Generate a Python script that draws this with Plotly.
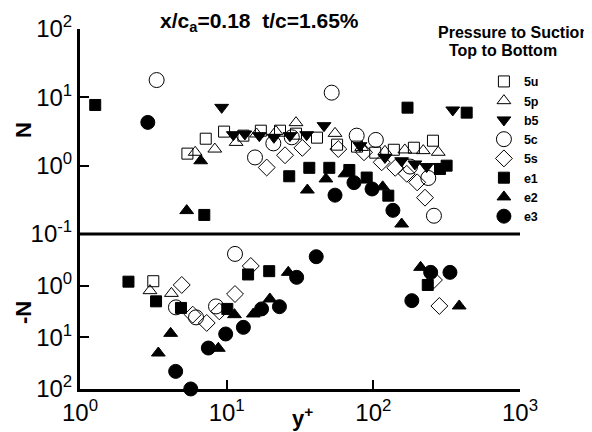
import plotly.graph_objects as go

# ---------------- data (upper panel: N ; lower panel: -N) ----------------
x_5u_top = [5.4, 7.2, 9.6, 13.0, 17.1, 23.1, 29.7, 41.3, 56.6, 77.4, 103, 138, 189, 255]
N_5u_top = [1.50, 2.48, 3.15, 2.75, 3.25, 3.25, 2.94, 2.57, 2.03, 1.90, 1.55, 1.71, 1.83, 2.32]
x_5u_bot = [3.16]
N_5u_bot = [0.82]

x_5p_top = [6.1, 8.3, 11.6, 16.0, 21.7, 29.7, 54.8, 83.3, 120, 164, 219, 277]
N_5p_top = [1.57, 1.75, 2.19, 2.91, 3.15, 4.26, 2.97, 1.85, 1.62, 1.70, 1.66, 1.57]
x_5p_bot = [3.0, 4.2]
N_5p_bot = [1.25, 1.41]

x_b5_top = [9.25, 11.1, 13.3, 16.7, 21.0, 27.0, 35.1, 46.1, 81.1, 120, 156, 192, 231, 285, 348]
N_b5_top = [7.13, 2.84, 2.91, 2.75, 2.60, 2.75, 2.84, 3.85, 1.96, 1.32, 1.18, 1.06, 0.97, 0.97, 6.53]
x_b5_bot = []
N_b5_bot = []

x_5c_top = [3.33, 15.6, 20.8, 27.8, 52.0, 77.0, 104, 178, 237, 259]
N_5c_top = [17.9, 1.32, 2.12, 2.60, 11.7, 2.75, 2.38, 0.97, 0.66, 0.185]
x_5c_bot = [4.51, 6.18, 8.46, 11.4]
N_5c_bot = [2.63, 4.11, 2.52, 0.243]

x_5s_top = [18.75, 25.0, 32.8, 57.7, 86.4, 114, 141, 169, 199, 225]
N_5s_top = [0.94, 1.42, 1.82, 1.75, 1.57, 1.12, 0.93, 0.76, 0.57, 0.34]
x_5s_bot = [4.94, 5.87, 7.31, 8.91, 11.4, 14.6, 259, 282]
N_5s_bot = [0.97, 3.64, 5.27, 3.14, 1.45, 0.416, 0.776, 2.47]

x_e1_top = [1.27, 7.04, 26.7, 36.6, 50.1, 68.6, 90.1, 126.5, 171, 285, 316, 433]
N_e1_top = [7.73, 0.19, 0.70, 0.93, 0.93, 0.865, 0.67, 0.364, 7.06, 0.895, 1.0, 5.97]
x_e1_bot = [2.14, 3.30, 4.88, 10.1, 14.0, 19.5, 235]
N_e1_bot = [0.837, 2.01, 2.70, 2.82, 0.607, 0.524, 0.97]

x_e2_top = [5.34, 6.65, 35.5, 47.5, 64.1, 115.8, 156]
N_e2_top = [0.22, 1.18, 0.44, 0.64, 0.76, 0.49, 0.14]
x_e2_bot = [3.42, 4.15, 8.77, 11.3, 15.2, 19.7, 26.3, 210, 385]
N_e2_bot = [20.1, 8.38, 16.3, 3.64, 3.53, 1.81, 0.553, 0.442, 2.47]

x_e3_top = [2.90, 54.8, 73.8, 98, 136]
N_e3_top = [4.30, 0.37, 0.564, 0.456, 0.222]
x_e3_bot = [4.49, 5.69, 7.50, 9.85, 13.0, 17.3, 22.9, 30.0, 40.8, 183, 246, 333]
N_e3_bot = [45.6, 99.8, 16.1, 8.61, 6.41, 2.82, 2.55, 0.69, 0.275, 1.95, 0.553, 0.553]

series_names = ["5u", "5p", "b5", "5c", "5s", "e1", "e2", "e3"]
series_symbols = ["square-open", "triangle-up-open", "triangle-down", "circle-open",
                  "diamond-open", "square", "triangle-up", "circle"]
series_sizes = [11, 12, 12, 15, 13, 11, 12, 14]

top_x = [x_5u_top, x_5p_top, x_b5_top, x_5c_top, x_5s_top, x_e1_top, x_e2_top, x_e3_top]
top_N = [N_5u_top, N_5p_top, N_b5_top, N_5c_top, N_5s_top, N_e1_top, N_e2_top, N_e3_top]
bot_x = [x_5u_bot, x_5p_bot, x_b5_bot, x_5c_bot, x_5s_bot, x_e1_bot, x_e2_bot, x_e3_bot]
bot_N = [N_5u_bot, N_5p_bot, N_b5_bot, N_5c_bot, N_5s_bot, N_e1_bot, N_e2_bot, N_e3_bot]

x_ticks = [1, 10, 100, 1000]
x_ticktext = ["10<sup>0</sup>", "10<sup>1</sup>", "10<sup>2</sup>", "10<sup>3</sup>"]
top_ticks = [0.1, 1, 10, 100]
top_ticktext = ["10<sup>-1</sup>", "10<sup>0</sup>", "10<sup>1</sup>", "10<sup>2</sup>"]
bot_ticks = [1, 10, 100]
bot_ticktext = ["10<sup>0</sup>", "10<sup>1</sup>", "10<sup>2</sup>"]
minor_digits = [2, 3, 4, 5, 6, 7, 8, 9]
x_decades = [1, 10, 100]
y_decades = [0.1, 1, 10]

x_minor = [d * m for d in x_decades for m in minor_digits]
y_minor = [d * m for d in y_decades for m in minor_digits]

FONT = "Liberation Sans, Arial, sans-serif"

fig = go.Figure()
for i, name in enumerate(series_names):
    mk = dict(symbol=series_symbols[i], size=series_sizes[i], color="black",
              line=dict(color="black", width=1))
    fig.add_trace(go.Scatter(x=top_x[i], y=top_N[i], mode="markers", name=name,
                             legendgroup=name, marker=mk, xaxis="x", yaxis="y",
                             cliponaxis=False))
    fig.add_trace(go.Scatter(x=bot_x[i], y=bot_N[i], mode="markers", name=name,
                             legendgroup=name, showlegend=False, marker=mk,
                             xaxis="x", yaxis="y2", cliponaxis=False))

split = 155 / 360

major = dict(showgrid=False, zeroline=False, showline=True, linecolor="black",
             linewidth=3, ticks="inside", ticklen=9, tickwidth=2, tickcolor="black",
             automargin=False, tickfont=dict(family=FONT, size=24, color="black"))
minor = dict(showgrid=False, zeroline=False, showline=False, ticks="inside", ticklen=5,
             tickwidth=1, tickcolor="black", showticklabels=False, automargin=False,
             tickmode="array")

# The page body has an 8px default margin, so the figure is 8px smaller
# and its margins are reduced so the plot area lands at x 80-520, y 29-389.
fig.update_layout(
    width=584, height=424,
    margin=dict(l=72, r=72, t=21, b=43, autoexpand=False),
    plot_bgcolor="white", paper_bgcolor="white",
    xaxis=dict(type="log", range=[0, 3], anchor="y2", tickvals=x_ticks, ticktext=x_ticktext,
               ticklabelstandoff=0, **major),
    yaxis=dict(type="log", range=[-1, 2], domain=[split, 1], anchor="x",
               tickvals=top_ticks, ticktext=top_ticktext, **major),
    yaxis2=dict(type="log", range=[2, -1], domain=[0, split], anchor="x",
                tickvals=bot_ticks, ticktext=bot_ticktext, **major),
    xaxis2=dict(type="log", range=[0, 3], anchor="y2", overlaying="x", tickvals=x_minor,
                **minor),
    yaxis3=dict(type="log", range=[-1, 2], anchor="x", overlaying="y", tickvals=y_minor,
                **minor),
    yaxis4=dict(type="log", range=[2, -1], anchor="x", overlaying="y2", tickvals=y_minor,
                **minor),
    showlegend=True,
    legend=dict(x=0.918, y=0.895, xanchor="left", yanchor="top", bgcolor="rgba(0,0,0,0)",
                font=dict(family=FONT, size=12.5, color="black", weight="bold"),
                itemsizing="trace", tracegroupgap=0),
    shapes=[dict(type="line", xref="x domain", yref="y2 domain", x0=0, x1=1, y0=1, y1=1,
                 line=dict(color="black", width=3))],
    annotations=[
        dict(text="<b>x/c<sub>a</sub>=0.18  t/c=1.65%</b>", xref="paper", yref="paper",
             x=(259 - 80) / 440, y=(389 - 22) / 360, showarrow=False, xanchor="center",
             yanchor="middle", font=dict(family=FONT, size=21, color="black")),
        dict(text="<b>Pressure to Suction</b>", xref="paper", yref="paper",
             x=(591 - 80) / 440, y=(389 - 33) / 360, showarrow=False, xanchor="right",
             yanchor="middle", font=dict(family=FONT, size=16, color="black")),
        dict(text="<b>Top to Bottom</b>", xref="paper", yref="paper",
             x=(503 - 80) / 440, y=(389 - 50) / 360, showarrow=False, xanchor="center",
             yanchor="middle", font=dict(family=FONT, size=16, color="black")),
        dict(text="<b>N</b>", xref="paper", yref="paper", x=-57 / 440, y=(389 - 130) / 360,
             textangle=-90, showarrow=False, xanchor="center", yanchor="middle",
             font=dict(family=FONT, size=22, color="black")),
        dict(text="<b>-N</b>", xref="paper", yref="paper", x=-57 / 440, y=(389 - 313) / 360,
             textangle=-90, showarrow=False, xanchor="center", yanchor="middle",
             font=dict(family=FONT, size=22, color="black")),
        dict(text="<b>y<sup>+</sup></b>", xref="paper", yref="paper", x=(302 - 80) / 440,
             y=(389 - 417) / 360, showarrow=False, xanchor="center", yanchor="middle",
             font=dict(family=FONT, size=22, color="black")),
    ],
)

fig.write_html("out.html")
